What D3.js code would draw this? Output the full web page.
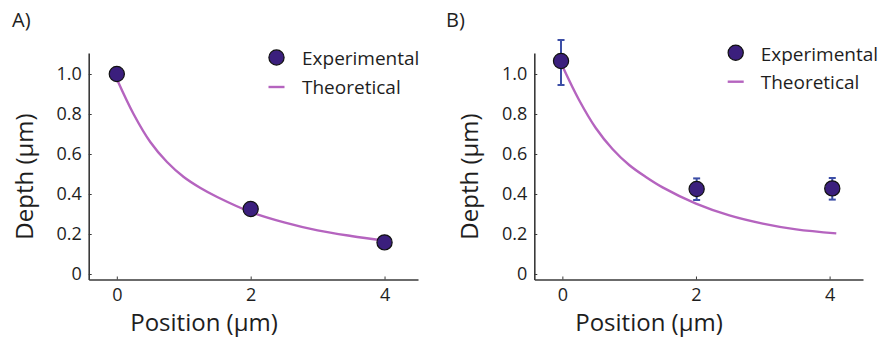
<!DOCTYPE html>
<html>
<head>
<meta charset="utf-8">
<script src="https://cdn.jsdelivr.net/npm/d3@7"></script>
<style>
  html, body { margin: 0; padding: 0; background: #ffffff; }
  svg { display: block; }
  text { font-family: "Open Sans", "Lato", sans-serif; fill: #1e1e1e; }
</style>
</head>
<body>
<svg id="chart" width="880" height="339"></svg>
<script>
// Shared axis ticks
const xTicks = [0, 2, 4];
const yTicks = [0, 0.2, 0.4, 0.6, 0.8, 1.0];
const yTickLabels = ["0", "0.2", "0.4", "0.6", "0.8", "1.0"];

// Panel A: measured depth and model curve
const expPositionA = [0, 2, 4];
const expDepthA = [1.0, 0.325, 0.158];
const theoPositionA = [0, 0.25, 0.5, 0.75, 1.0, 1.25, 1.5, 2.0, 2.5, 3.0, 3.5, 4.0];
const theoDepthA = [0.975, 0.8, 0.66, 0.56, 0.485, 0.43, 0.385, 0.31, 0.258, 0.218, 0.19, 0.167];

// Panel B: measured depth with error bars and model curve
const expPositionB = [-0.02, 2.01, 4.04];
const expDepthB = [1.065, 0.425, 0.428];
const errLowB = [0.945, 0.37, 0.372];
const errHighB = [1.17, 0.478, 0.48];
const theoPositionB = [0, 0.25, 0.5, 0.75, 1.0, 1.25, 1.5, 2.0, 2.5, 3.0, 3.5, 4.1];
const theoDepthB = [1.04, 0.87, 0.73, 0.625, 0.545, 0.485, 0.433, 0.352, 0.293, 0.252, 0.223, 0.203];

const legendLabels = ["Experimental", "Theoretical"];

const dotFill = "#3b1f7d";
const curveColor = "#b564bf";
const errColor = "#3c4ea6";
const axisColor = "#3a3a3a";

const svg = d3.select("#chart");

const panels = [
  {
    tag: "A)", tagX: 12, tagY: 27,
    xRange: [88.7, 418], yRange: [279.5, 53],
    expX: expPositionA, expY: expDepthA, lo: null, hi: null,
    theoX: theoPositionA, theoY: theoDepthA,
    legend: { cx: 276.5, cy: 57.5, textX: 302, base1: 65, base2: 93.5, lineY: 87 },
    yTitleX: 33, xTitleX: 204
  },
  {
    tag: "B)", tagX: 446, tagY: 27,
    xRange: [534.3, 863], yRange: [279.5, 53],
    expX: expPositionB, expY: expDepthB, lo: errLowB, hi: errHighB,
    theoX: theoPositionB, theoY: theoDepthB,
    legend: { cx: 735.7, cy: 52.7, textX: 760.7, base1: 60.5, base2: 89, lineY: 81.7 },
    yTitleX: 478, xTitleX: 649
  }
];

panels.forEach(p => {
  const g = svg.append("g");

  const x = d3.scaleLinear().domain([-0.42, 4.5]).range(p.xRange);
  const y = d3.scaleLinear().domain([-0.0275, 1.105]).range(p.yRange);

  // Axes with short inward ticks
  const xAxis = g.append("g")
    .attr("transform", `translate(0,${p.yRange[0]})`)
    .call(d3.axisBottom(x).tickValues(xTicks).tickFormat(d3.format("d"))
      .tickSize(-3).tickSizeOuter(0).tickPadding(9));
  const yAxis = g.append("g")
    .attr("transform", `translate(${p.xRange[0]},0)`)
    .call(d3.axisLeft(y).tickValues(yTicks).tickFormat((d, i) => yTickLabels[i])
      .tickSize(-3).tickSizeOuter(0).tickPadding(7));

  [xAxis, yAxis].forEach(a => {
    a.select(".domain").attr("stroke", axisColor).attr("stroke-width", 1.6);
    a.selectAll(".tick line").attr("stroke", axisColor).attr("stroke-width", 1);
    a.selectAll(".tick text").attr("font-size", 18).attr("fill", "#1e1e1e")
      .style("font-family", '"Open Sans", sans-serif');
  });

  // Model curve
  const line = d3.line()
    .x((d, i) => x(p.theoX[i]))
    .y(d => y(d))
    .curve(d3.curveCatmullRom.alpha(0.5));
  g.append("path")
    .datum(p.theoY)
    .attr("fill", "none")
    .attr("stroke", curveColor)
    .attr("stroke-width", 2.4)
    .attr("d", line);

  // Error bars
  if (p.lo) {
    const eb = g.append("g").attr("stroke", errColor).attr("stroke-width", 2);
    p.expX.forEach((xv, i) => {
      eb.append("line").attr("x1", x(xv)).attr("x2", x(xv))
        .attr("y1", y(p.lo[i])).attr("y2", y(p.hi[i]));
      [p.lo[i], p.hi[i]].forEach(v => {
        eb.append("line").attr("x1", x(xv) - 3.5).attr("x2", x(xv) + 3.5)
          .attr("y1", y(v)).attr("y2", y(v));
      });
    });
  }

  // Measured points
  g.selectAll("circle.pt")
    .data(p.expY)
    .join("circle")
    .attr("class", "pt")
    .attr("cx", (d, i) => x(p.expX[i]))
    .attr("cy", d => y(d))
    .attr("r", 7.6)
    .attr("fill", dotFill)
    .attr("stroke", "#111")
    .attr("stroke-width", 1.2);

  // Legend
  const L = p.legend;
  g.append("circle").attr("cx", L.cx).attr("cy", L.cy).attr("r", 7.6)
    .attr("fill", dotFill).attr("stroke", "#111").attr("stroke-width", 1.2);
  g.append("line").attr("x1", L.cx - 8).attr("x2", L.cx + 8)
    .attr("y1", L.lineY).attr("y2", L.lineY)
    .attr("stroke", curveColor).attr("stroke-width", 2.4);
  g.append("text").attr("x", L.textX).attr("y", L.base1)
    .attr("font-size", 19).text(legendLabels[0]);
  g.append("text").attr("x", L.textX).attr("y", L.base2)
    .attr("font-size", 19).text(legendLabels[1]);

  // Axis titles
  g.append("text")
    .attr("transform", `translate(${p.yTitleX},176.5) rotate(-90)`)
    .attr("text-anchor", "middle")
    .attr("font-size", 24)
    .text("Depth (μm)");
  g.append("text")
    .attr("x", p.xTitleX).attr("y", 331)
    .attr("text-anchor", "middle")
    .attr("font-size", 24)
    .text("Position (μm)");

  // Panel tag
  g.append("text").attr("x", p.tagX).attr("y", p.tagY)
    .attr("font-size", 20).text(p.tag);
});
</script>
</body>
</html>
